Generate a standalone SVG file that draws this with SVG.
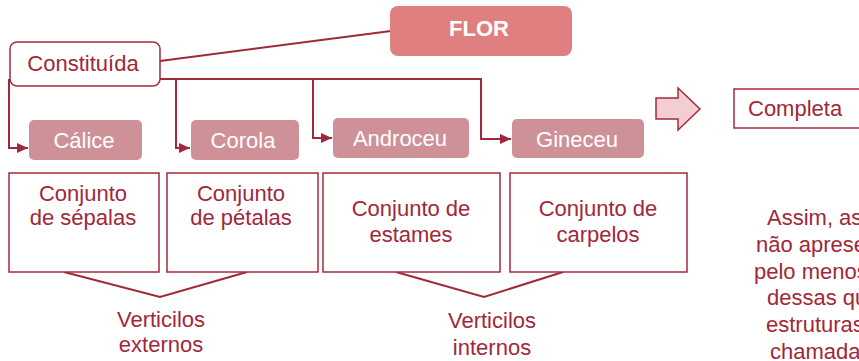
<svg xmlns="http://www.w3.org/2000/svg" width="859" height="361" viewBox="0 0 859 361">
<defs>
<style>
text{font-family:"Liberation Sans",Arial,sans-serif;font-size:22px;fill:#a0283a;}
.w{fill:#ffffff;}
.c{text-anchor:middle;}
.b{font-weight:bold;}
.box{fill:#ffffff;stroke:#a52a3c;stroke-width:1.5;}
.pk{fill:#cf9198;}
.ln{fill:none;stroke:#a0283a;stroke-width:2;}
</style>
<marker id="ah" viewBox="0 0 11 10" refX="11" refY="5" markerWidth="11" markerHeight="10" markerUnits="userSpaceOnUse" orient="auto">
<path d="M0,0 L11,5 L0,10 Z" fill="#a0283a"/>
</marker>
</defs>
<rect width="859" height="361" fill="#ffffff"/>
<g id="connectors">
<path class="ln" d="M160,61 L391,31"/>
<path class="ln" d="M9,79 V148 H28" marker-end="url(#ah)"/>
<path class="ln" d="M160,79 H176 V148 H190" marker-end="url(#ah)"/>
<path class="ln" d="M160,79 H313 V138 H332" marker-end="url(#ah)"/>
<path class="ln" d="M160,79 H481 V139 H511" marker-end="url(#ah)"/>
<path class="ln" d="M64,272 L160,297 L247,272"/>
<path class="ln" d="M396,272 L484,297 L563,272"/>
</g>
<g id="flor">
<rect x="390" y="6" width="182" height="50" rx="8" fill="#e07f7f"/>
<text class="w b c" x="479" y="36">FLOR</text>
</g>
<g id="constituida">
<rect class="box" x="10" y="42" width="150" height="44" rx="7"/>
<text class="c" x="83" y="71">Constituída</text>
</g>
<g id="calice">
<rect class="pk" x="29" y="120" width="113" height="40" rx="5"/>
<text class="w c" x="84" y="148">Cálice</text>
</g>
<g id="corola">
<rect class="pk" x="191" y="120" width="108" height="40" rx="5"/>
<text class="w c" x="243" y="148">Corola</text>
</g>
<g id="androceu">
<rect class="pk" x="333" y="118" width="136" height="40" rx="5"/>
<text class="w c" x="400" y="146">Androceu</text>
</g>
<g id="gineceu">
<rect class="pk" x="512" y="119" width="132" height="39" rx="5"/>
<text class="w c" x="577" y="147">Gineceu</text>
</g>
<g id="sepalas">
<rect class="box" x="9" y="173" width="150" height="99"/>
<text class="c" x="83" y="201">Conjunto</text>
<text class="c" x="83" y="225">de sépalas</text>
</g>
<g id="petalas">
<rect class="box" x="167" y="173" width="151" height="99"/>
<text class="c" x="241" y="201">Conjunto</text>
<text class="c" x="241" y="225">de pétalas</text>
</g>
<g id="estames">
<rect class="box" x="323" y="173" width="177" height="99"/>
<text class="c" x="411" y="216">Conjunto de</text>
<text class="c" x="411" y="242">estames</text>
</g>
<g id="carpelos">
<rect class="box" x="510" y="173" width="177" height="99"/>
<text class="c" x="598" y="216">Conjunto de</text>
<text class="c" x="598" y="242">carpelos</text>
</g>
<g id="externos">
<text class="c" x="161" y="327">Verticilos</text>
<text class="c" x="161" y="352">externos</text>
</g>
<g id="internos">
<text class="c" x="492" y="328">Verticilos</text>
<text class="c" x="492" y="355">internos</text>
</g>
<g id="seta">
<path d="M656,98 H678 V88 L700,109 L678,130 V119 H656 Z" fill="#f2cdd1" stroke="#a52a3c" stroke-width="1.5"/>
</g>
<g id="completa">
<rect class="box" x="734" y="89" width="140" height="39"/>
<text x="748" y="116">Completa</text>
</g>
<g id="nota">
<text x="767" y="225">Assim, as</text>
<text x="756" y="252">não apresentam</text>
<text x="754" y="279">pelo menos</text>
<text x="767" y="305">dessas qu</text>
<text x="766" y="332">estruturas</text>
<text x="770" y="359">chamadas</text>
</g>
</svg>
